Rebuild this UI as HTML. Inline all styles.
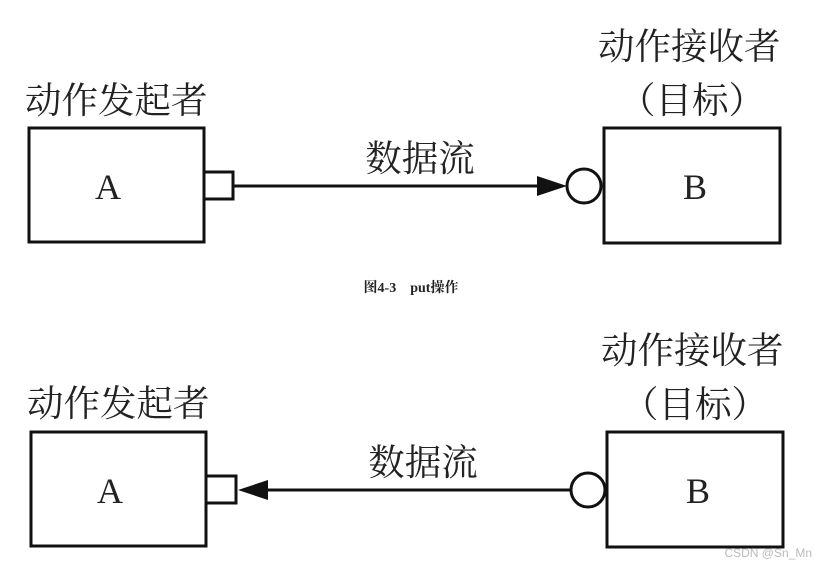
<!DOCTYPE html>
<html><head><meta charset="utf-8"><style>
html,body{margin:0;padding:0;background:#fff;}
svg{display:block}
text{font-family:"Liberation Serif","Noto Serif CJK SC","Noto Sans CJK SC",serif;fill:#222;}
</style></head><body>
<svg width="826" height="568" viewBox="0 0 826 568" xmlns="http://www.w3.org/2000/svg">
<g stroke="#111" stroke-width="3" fill="none">
<rect x="29" y="128" width="175" height="114"/>
<rect x="204" y="172" width="29" height="27"/>
<line x1="233" y1="186" x2="540" y2="186"/>
<ellipse cx="584" cy="186" rx="17" ry="17"/>
<rect x="604" y="128" width="176" height="115"/>
<rect x="31" y="432" width="175" height="114"/>
<rect x="206" y="476" width="30" height="27"/>
<line x1="262" y1="490" x2="572" y2="490"/>
<ellipse cx="588" cy="490" rx="17" ry="17"/>
<rect x="607" y="432" width="176" height="115"/>
</g>
<polygon points="537,176 567,186 537,196" fill="#111"/>
<polygon points="238,490 268,480 268,500" fill="#111"/>
<g font-size="36.5">
<text x="25" y="113">动作发起者</text>
<text x="598" y="59">动作接收者</text>
<text x="692" y="113" text-anchor="middle">（目标）</text>
<text x="420" y="171" text-anchor="middle">数据流</text>
<text x="27" y="416">动作发起者</text>
<text x="601" y="363">动作接收者</text>
<text x="695" y="417" text-anchor="middle">（目标）</text>
<text x="423" y="475" text-anchor="middle">数据流</text>
</g>
<g font-size="36" text-anchor="middle">
<text x="108" y="199">A</text>
<text x="695" y="199">B</text>
<text x="110" y="503">A</text>
<text x="698" y="503">B</text>
</g>
<text x="411" y="292" font-size="14" font-weight="bold" text-anchor="middle">图4-3　put操作</text>
<text x="812" y="557" font-size="12" text-anchor="end" style="fill:#bbb;font-family:'Liberation Sans',sans-serif">CSDN @Sn_Mn</text>
</svg>
</body></html>
